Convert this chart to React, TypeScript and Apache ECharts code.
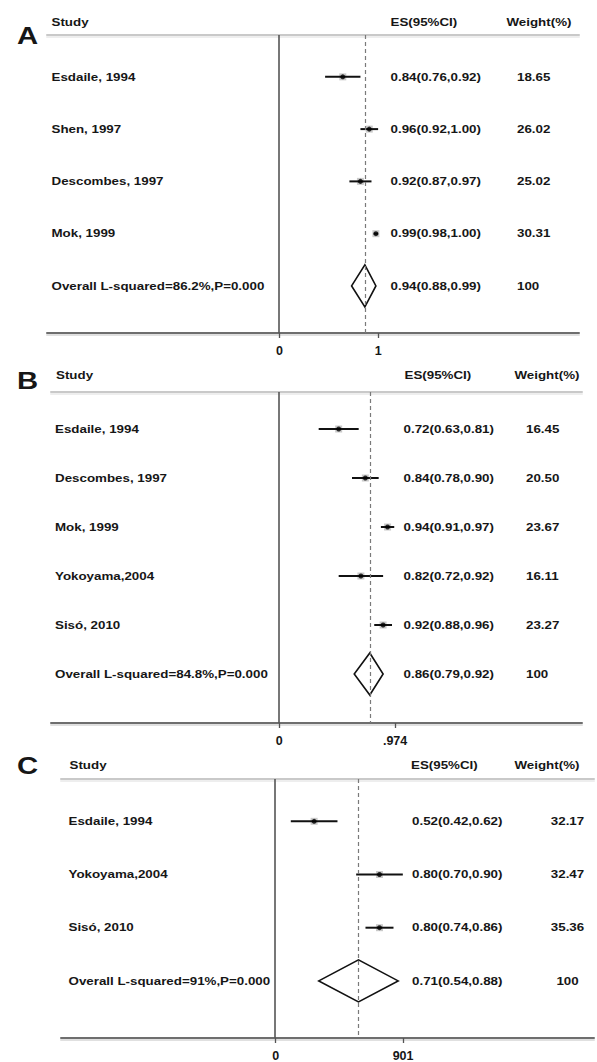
import React, { useEffect, useRef } from "react";
import * as echarts from "echarts";

// ---------- Panel A ----------
const studiesA = ["Esdaile, 1994", "Shen, 1997", "Descombes, 1997", "Mok, 1999"];
const esA = [0.84, 0.96, 0.92, 0.99];
const loA = [0.76, 0.92, 0.87, 0.98];
const hiA = [0.92, 1.0, 0.97, 1.0];
const weightsA = ["18.65", "26.02", "25.02", "30.31"];
const overallLabelA = "Overall L-squared=86.2%,P=0.000";
const overallA = [0.94, 0.88, 0.99]; // es, lo, hi
const tickValuesA = [0.553, 1];
const tickLabelsA = ["0", "1"];

// ---------- Panel B ----------
const studiesB = ["Esdaile, 1994", "Descombes, 1997", "Mok, 1999", "Yokoyama,2004", "Sisó, 2010"];
const esB = [0.72, 0.84, 0.94, 0.82, 0.92];
const loB = [0.63, 0.78, 0.91, 0.72, 0.88];
const hiB = [0.81, 0.9, 0.97, 0.92, 0.96];
const weightsB = ["16.45", "20.50", "23.67", "16.11", "23.27"];
const overallLabelB = "Overall L-squared=84.8%,P=0.000";
const overallB = [0.86, 0.79, 0.92];
const tickValuesB = [0.452, 0.974];
const tickLabelsB = ["0", ".974"];

// ---------- Panel C ----------
const studiesC = ["Esdaile, 1994", "Yokoyama,2004", "Sisó, 2010"];
const esC = [0.52, 0.8, 0.8];
const loC = [0.42, 0.7, 0.74];
const hiC = [0.62, 0.9, 0.86];
const weightsC = ["32.17", "32.47", "35.36"];
const overallLabelC = "Overall L-squared=91%,P=0.000";
const overallC = [0.71, 0.54, 0.88];
const tickValuesC = [0.355, 0.901];
const tickLabelsC = ["0", "901"];

const overallWeight = "100";
const panelLetters = ["A", "B", "C"];
const headerStudy = "Study";
const headerES = "ES(95%CI)";
const headerWeight = "Weight(%)";

const panels = [
  { studies: studiesA, es: esA, lo: loA, hi: hiA, weights: weightsA, overallLabel: overallLabelA, overall: overallA, ticks: tickValuesA, tickLabels: tickLabelsA },
  { studies: studiesB, es: esB, lo: loB, hi: hiB, weights: weightsB, overallLabel: overallLabelB, overall: overallB, ticks: tickValuesB, tickLabels: tickLabelsB },
  { studies: studiesC, es: esC, lo: loC, hi: hiC, weights: weightsC, overallLabel: overallLabelC, overall: overallC, ticks: tickValuesC, tickLabels: tickLabelsC },
];

// ---------- layout (pixels / axis extents) ----------
const layouts = [
  { left: 47, right: 579, top: 35, height: 298, xMin: -0.4991, xMax: 1.9095, yMin: 0.2, yMax: 5.9, letterY: 36, headY: 22, studyHeadX: 51.5, studyX: 51.5, esHeadX: 390.5, esX: 390.5, wHeadX: 506.5, wX: 517, wAlign: "left" },
  { left: 51, right: 582, top: 392, height: 331, xMin: -0.5746, xMax: 1.815, yMin: 0.245, yMax: 7.0, letterY: 381, headY: 375, studyHeadX: 56, studyX: 55, esHeadX: 404.5, esX: 403.5, wHeadX: 514.5, wX: 526, wAlign: "left" },
  { left: 61, right: 594, top: 779, height: 263, xMin: -0.5646, xMax: 1.7191, yMin: 0.204, yMax: 5.074, letterY: 766, headY: 765, studyHeadX: 69.5, studyX: 68.5, esHeadX: 411, esX: 412, wHeadX: 514.5, wX: 567.5, wAlign: "center" },
];

const FONT = '"Liberation Sans", Arial, Helvetica, sans-serif';
const TEXT_FONT = `bold 11.6px ${FONT}`;
const TEXT_STRETCH = 1.15;
const INK = "#161616";

function fmtES(e: number, l: number, h: number) {
  return `${e.toFixed(2)}(${l.toFixed(2)},${h.toFixed(2)})`;
}

function textEl(x: number, y: number, text: string, align: string, font = TEXT_FONT, sx = TEXT_STRETCH) {
  return {
    type: "text",
    x,
    y,
    scaleX: sx,
    scaleY: 1,
    style: {
      text,
      font,
      fill: INK,
      align,
      verticalAlign: "middle",
      textAlign: align,
      textVerticalAlign: "middle",
    },
  };
}

function plainAxis(i: number, L: any, position: string, offset: number, color: string, width: number) {
  return {
    type: "value",
    gridIndex: i,
    position,
    offset,
    min: L.xMin,
    max: L.xMax,
    splitLine: { show: false },
    axisLine: { show: true, onZero: false, lineStyle: { color, width } },
    axisTick: { show: false },
    axisLabel: { show: false },
  };
}

function buildOption() {
  const grid: any[] = [];
  const xAxis: any[] = [];
  const yAxis: any[] = [];
  const series: any[] = [];
  const graphic: any[] = [];

  panels.forEach((p, i) => {
    const L = layouts[i];
    grid.push({ left: L.left, top: L.top, width: L.right - L.left, height: L.height, containLabel: false });
    const labelFor = (v: number) => {
      const k = p.ticks.findIndex((t) => Math.abs(t - v) < 1e-6);
      return k >= 0 ? p.tickLabels[k] : "";
    };
    const xi = xAxis.length;
    xAxis.push({
      type: "value",
      gridIndex: i,
      position: "bottom",
      min: L.xMin,
      max: L.xMax,
      splitLine: { show: false },
      axisLine: { show: true, onZero: false, lineStyle: { color: "#6e6e6e", width: 2 } },
      axisTick: { show: true, customValues: p.ticks, length: 5, lineStyle: { color: "#555", width: 1.3 } },
      axisLabel: {
        show: true,
        customValues: p.ticks,
        formatter: labelFor,
        margin: 11,
        color: INK,
        fontSize: 12.5,
        fontWeight: "bold",
        fontFamily: FONT,
      },
    });
    // soft shadow below the bottom axis
    xAxis.push(plainAxis(i, L, "bottom", 2, "#e0e0e0", 2));
    // header rule + its soft shadow
    xAxis.push(plainAxis(i, L, "top", 0, "#c9c9c9", 2));
    xAxis.push(plainAxis(i, L, "top", -2, "#eeeeee", 2));
    yAxis.push({ type: "value", gridIndex: i, inverse: true, min: L.yMin, max: L.yMax, show: false });

    const overallRow = p.studies.length + 1;

    // CI lines
    series.push({
      type: "custom",
      xAxisIndex: xi,
      yAxisIndex: i,
      silent: true,
      z: 2,
      encode: { x: [0, 1], y: 2 },
      data: p.studies.map((_, k) => [p.lo[k], p.hi[k], k + 1]),
      renderItem: (_params: any, api: any) => {
        const a = api.coord([api.value(0), api.value(2)]);
        const b = api.coord([api.value(1), api.value(2)]);
        return {
          type: "line",
          shape: { x1: a[0], y1: a[1], x2: b[0], y2: b[1] },
          style: { stroke: "#111", lineWidth: 2 },
        };
      },
    });

    // weight boxes (faint)
    series.push({
      type: "scatter",
      xAxisIndex: xi,
      yAxisIndex: i,
      silent: true,
      z: 1,
      symbol: "rect",
      symbolSize: 7,
      itemStyle: { color: "#bdbdbd" },
      data: p.studies.map((_, k) => [p.es[k], k + 1]),
    });

    // point estimates + reference lines
    series.push({
      type: "scatter",
      xAxisIndex: xi,
      yAxisIndex: i,
      silent: true,
      z: 3,
      symbol: "circle",
      symbolSize: 5,
      itemStyle: { color: "#000" },
      data: p.studies.map((_, k) => [p.es[k], k + 1]),
      markLine: {
        silent: true,
        symbol: "none",
        label: { show: false },
        data: [
          { xAxis: p.ticks[0], lineStyle: { color: "#555", width: 1.6, type: "solid" } },
          { xAxis: p.overall[0], lineStyle: { color: "#7a7a7a", width: 1.2, type: [4, 3] } },
        ],
      },
    });

    // overall diamond
    series.push({
      type: "custom",
      xAxisIndex: xi,
      yAxisIndex: i,
      silent: true,
      z: 4,
      encode: { x: [0, 1, 2], y: 3 },
      data: [[p.overall[1], p.overall[0], p.overall[2], overallRow]],
      renderItem: (_params: any, api: any) => {
        const r = api.value(3);
        const l = api.coord([api.value(0), r]);
        const c = api.coord([api.value(1), r]);
        const h = api.coord([api.value(2), r]);
        const hh = 21;
        return {
          type: "polygon",
          shape: { points: [[l[0], l[1]], [c[0], c[1] - hh], [h[0], h[1]], [c[0], c[1] + hh]] },
          style: { stroke: "#111", lineWidth: 1.6, fill: "none" },
        };
      },
    });

    // row texts
    const rowNames = [...p.studies, p.overallLabel];
    const rowES = [
      ...p.studies.map((_, k) => fmtES(p.es[k], p.lo[k], p.hi[k])),
      fmtES(p.overall[0], p.overall[1], p.overall[2]),
    ];
    const rowW = [...p.weights, overallWeight];
    series.push({
      type: "custom",
      xAxisIndex: xi,
      yAxisIndex: i,
      silent: true,
      z: 5,
      encode: { x: 0, y: 1 },
      data: rowNames.map((_, k) => [p.es[0], k + 1, k]),
      renderItem: (_params: any, api: any) => {
        const k = api.value(2);
        const y = api.coord([api.value(0), api.value(1)])[1];
        return {
          type: "group",
          children: [
            textEl(L.studyX, y, rowNames[k], "left"),
            textEl(L.esX, y, rowES[k], "left"),
            textEl(L.wX, y, rowW[k], L.wAlign),
          ],
        };
      },
    });

    // panel letter + headers
    graphic.push(textEl(17, L.letterY, panelLetters[i], "left", `bold 24px ${FONT}`, 1.22));
    graphic.push(textEl(L.studyHeadX, L.headY, headerStudy, "left"));
    graphic.push(textEl(L.esHeadX, L.headY, headerES, "left"));
    graphic.push(textEl(L.wHeadX, L.headY, headerWeight, "left"));
  });

  return {
    animation: false,
    backgroundColor: "#ffffff",
    grid,
    xAxis,
    yAxis,
    series,
    graphic,
  };
}

export default function App() {
  const ref = useRef<HTMLDivElement>(null);
  useEffect(() => {
    if (!ref.current) return;
    const chart = echarts.init(ref.current, undefined, { renderer: "svg" });
    chart.setOption(buildOption() as any);
    return () => chart.dispose();
  }, []);
  return (
    <div
      ref={ref}
      style={{ position: "fixed", left: 0, top: 0, width: 597, height: 1062, background: "#fff" }}
    />
  );
}
